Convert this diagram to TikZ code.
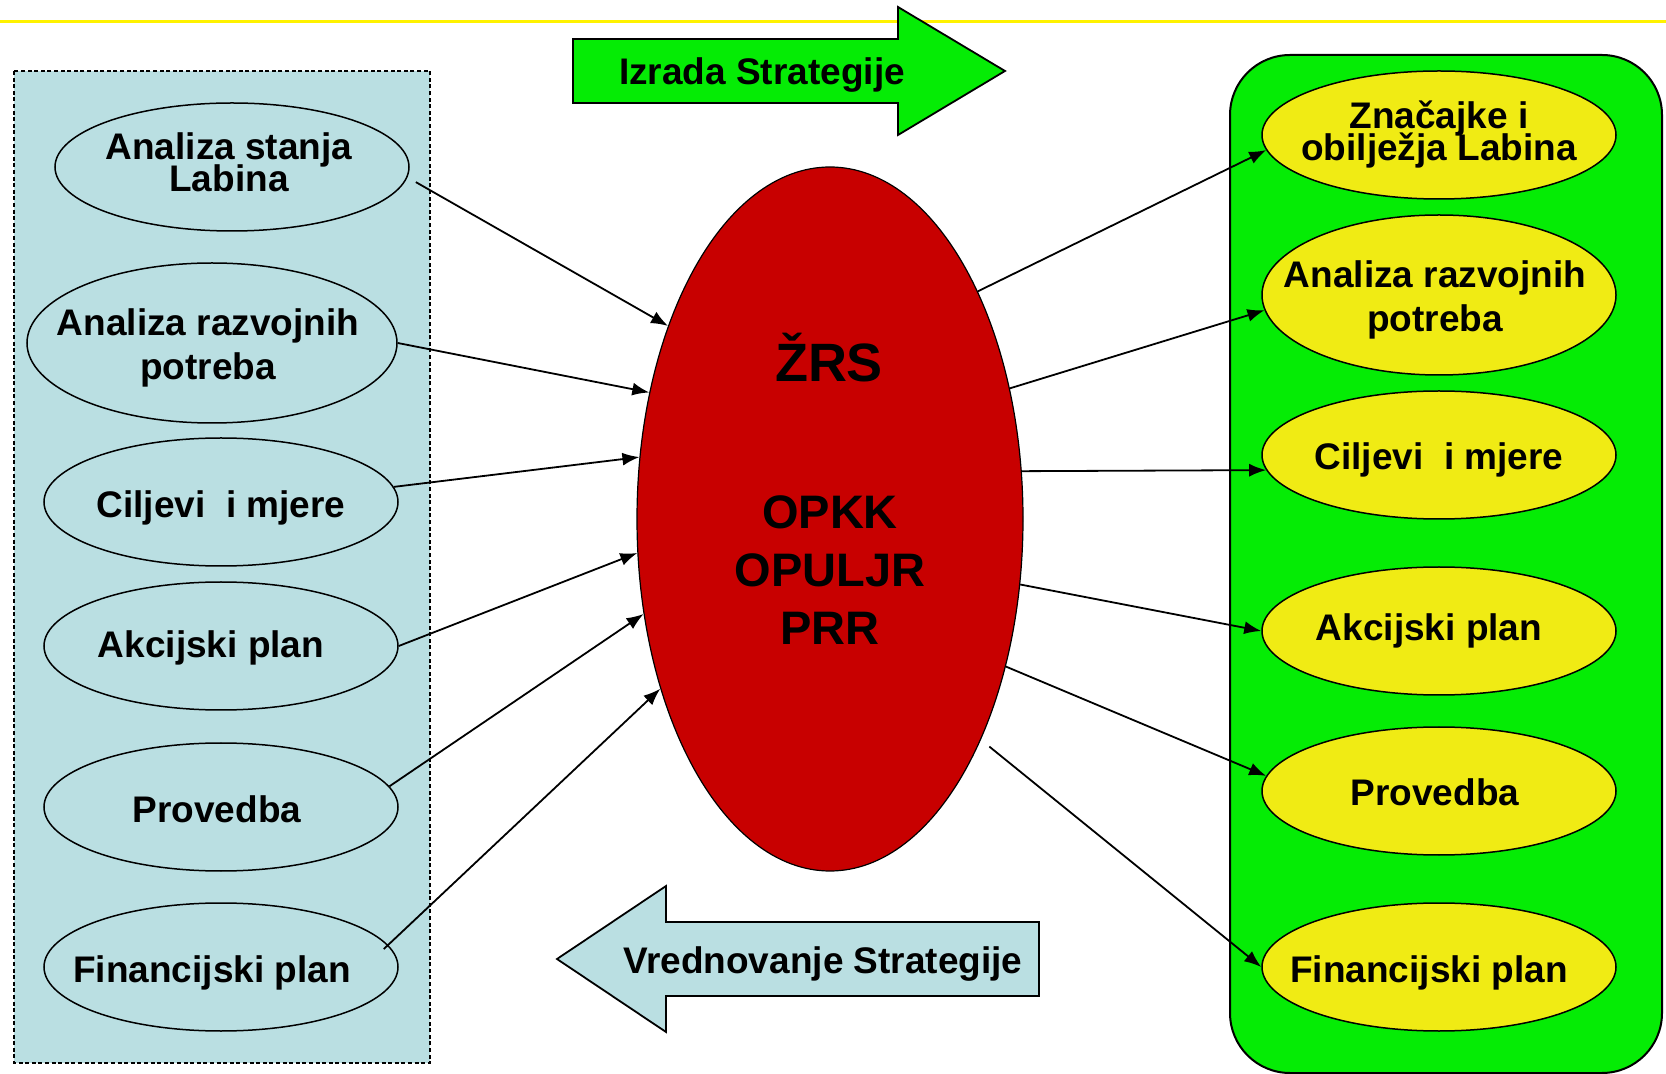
\documentclass[tikz,border=0pt]{standalone}
\usepackage{fontspec}
\setmainfont{Liberation Sans}
\usetikzlibrary{arrows.meta,shapes.geometric}

\definecolor{svijetloplava}{RGB}{186,223,226}
\definecolor{zelena}{RGB}{5,236,5}
\definecolor{zuta}{RGB}{240,235,20}
\definecolor{crvena}{RGB}{200,0,0}

\begin{document}
\begin{tikzpicture}[x=0.5pt,y=-0.5pt,
	elips/.style={ellipse,draw,line width=0.75pt,inner sep=0pt,minimum width=177pt,minimum height=64pt},
	lijevi/.style={elips,fill=svijetloplava},
	desni/.style={elips,fill=zuta},
	natpis/.style={font={\fontsize{18.5}{16}\selectfont\bfseries\lineskiplimit=-20pt\relax},align=center,inner sep=0pt},
	strelica/.style={-{Latex[length=8.5pt,width=6.5pt]},line width=0.9pt}]
	\useasboundingbox (0,0) rectangle (1666,1074);
	\draw[yellow,line width=1.5pt] (0,22) -- (1666,22);
	% okviri
	\draw[fill=svijetloplava,line width=0.9pt,dash pattern=on 2pt off 1.3pt] (14,71) rectangle (430,1063);
	\draw[fill=zelena,line width=1pt,rounded corners=30pt] (1230,55) rectangle (1662,1073);
	% velike strelice
	\draw[fill=zelena,line width=0.9pt] (573,39) -- (898,39) -- (898,7) -- (1005,71) -- (898,135) -- (898,103) -- (573,103) -- cycle;
	\node[natpis,anchor=base] (izrada) at (762,85) {Izrada Strategije};
	\draw[fill=svijetloplava,line width=0.9pt] (1039,922) -- (666,922) -- (666,886) -- (557,959) -- (666,1032) -- (666,996) -- (1039,996) -- cycle;
	\node[natpis,anchor=base] (vrednovanje) at (823,973) {Vrednovanje Strategije};
	% lijevo
	\node[lijevi,label={[natpis,xshift=-1.5pt,yshift=2.4pt]center:{Analiza stanja\\Labina}}] (l1) at (232,167) {};
	\node[lijevi,minimum width=185pt,minimum height=80pt,
		label={[natpis,xshift=-2pt,yshift=-2.4pt]center:{Analiza razvojnih\\[6pt]potreba}}] (l2) at (212,343) {};
	\node[lijevi,label={[natpis,yshift=-3.2pt]center:Ciljevi\ \ i mjere}] (l3) at (221,502) {};
	\node[lijevi,label={[natpis,xshift=-5pt,yshift=-1pt]center:Akcijski plan}] (l4) at (221,646) {};
	\node[lijevi,label={[natpis,xshift=-2pt,yshift=-1pt]center:Provedba}] (l5) at (221,807) {};
	\node[lijevi,label={[natpis,xshift=-4.5pt,yshift=-3.2pt]center:Financijski plan}] (l6) at (221,967) {};
	% sredina
	\node[ellipse,draw,line width=0.6pt,fill=crvena,inner sep=0pt,minimum width=193pt,minimum height=352pt] (zrs) at (830,519) {};
	\node[font=\fontsize{27}{30}\selectfont\bfseries,anchor=base,inner sep=0pt] (zrsnaslov) at (829,382) {ŽRS};
	\node[font=\fontsize{23.5}{29}\selectfont\bfseries,align=center,inner sep=0pt] (programi) at (830,570) {OPKK\\OPULJR\\PRR};
	% desno
	\node[desni,label={[natpis]center:{Značajke i\\obilježja Labina}}] (r1) at (1439,135) {};
	\node[desni,minimum height=80pt,
		label={[natpis,xshift=-2pt,yshift=-2.7pt]center:{Analiza razvojnih\\[6pt]potreba}}] (r2) at (1439,295) {};
	\node[desni,label={[natpis,yshift=-2.7pt]center:Ciljevi\ \ i mjere}] (r3) at (1439,455) {};
	\node[desni,label={[natpis,xshift=-5pt]center:Akcijski plan}] (r4) at (1439,631) {};
	\node[desni,label={[natpis,xshift=-2pt,yshift=-0.5pt]center:Provedba}] (r5) at (1439,791) {};
	\node[desni,label={[natpis,xshift=-5pt,yshift=-3.2pt]center:Financijski plan}] (r6) at (1439,967) {};
	% veze
	\draw[strelica] ([xshift=5.5pt]l1.-5) -- (zrs.130);
	\draw[strelica] (l2.east) -- (zrs.145);
	\draw[strelica] (l3.5) -- (zrs.162);
	\draw[strelica] (l4.east) -- (zrs.190);
	\draw[strelica] (l5.7) -- (zrs.207);
	\draw[strelica] ([xshift=-4pt]l6.6) -- (zrs.225);
	\draw[strelica] (zrs.57) -- (r1.185);
	\draw[strelica] (zrs.36) -- (r2.185);
	\draw[strelica] (zrs.14) -- (r3.185);
	\draw[strelica] (zrs.-19) -- (r4.west);
	\draw[strelica] (zrs.-40) -- (r5.175);
	\draw[strelica] ([shift={(7,10)}]zrs.-55) -- (r6.west);
\end{tikzpicture}
\end{document}
